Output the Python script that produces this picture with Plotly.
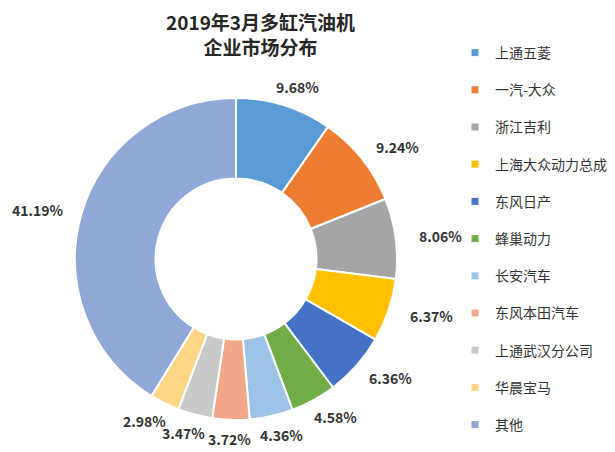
import math
import plotly.graph_objects as go

# page body adds an 8px margin, so the figure is drawn 8px in from the window corner
OFF = 8
W, H = 615 - OFF, 452 - OFF

categories = ["上通五菱", "一汽-大众", "浙江吉利", "上海大众动力总成", "东风日产",
              "蜂巢动力", "长安汽车", "东风本田汽车", "上通武汉分公司", "华晨宝马", "其他"]
shares = [9.68, 9.24, 8.06, 6.37, 6.36, 4.58, 4.36, 3.72, 3.47, 2.98, 41.19]
colors = ["#5B9BD5", "#ED7D31", "#A5A5A5", "#FFC000", "#4472C4", "#70AD47",
          "#9DC3E6", "#F2A788", "#C9C9C9", "#FFD685", "#8FA8D8"]
title_text = "<b>2019年3月多缸汽油机<br>企业市场分布</b>"


def px(x):
    return (x - OFF) / W


def py(y):
    return 1 - (y - OFF) / H


# pie extent in window pixels (left, right, top, bottom)
px_l, px_r, px_t, px_b = 75, 397, 98, 420

fig = go.Figure()
fig.add_trace(go.Pie(
    labels=categories, values=shares, sort=False, direction="clockwise",
    rotation=0, hole=0.5, textinfo="none", showlegend=False,
    marker=dict(colors=colors, line=dict(color="white", width=2)),
    domain=dict(x=[px(px_l), px(px_r)], y=[py(px_b), py(px_t)]),
))

# legend via placeholder traces (one group per item so spacing can be set)
for i, (c, col) in enumerate(zip(categories, colors)):
    fig.add_trace(go.Scatter(
        x=[None], y=[None], mode="markers", name=c, legendgroup=str(i),
        marker=dict(symbol="square", size=7, color=col),
    ))

# percentage labels placed around the ring from data
cx = (px_l + px_r) / 2
cy = (px_t + px_b) / 2
R = (px_r - px_l) / 2
total = sum(shares)
cum = 0.0
annotations = []
for v in shares:
    mid = (cum + v / 2) / total * 2 * math.pi
    cum += v
    x = cx + R * 1.28 * math.sin(mid)
    y = cy - R * 1.12 * math.cos(mid)
    annotations.append(dict(
        x=px(x), y=py(y), xref="paper", yref="paper",
        text=f"<b>{v:.2f}%</b>", showarrow=False,
        font=dict(size=14, color="#333333"),
        xanchor="center", yanchor="middle",
    ))

annotations.append(dict(
    x=px(260), y=py(34), xref="paper", yref="paper",
    text=title_text, showarrow=False, xanchor="center", yanchor="middle",
    font=dict(size=19, color="#262626"),
))

fig.update_layout(
    width=W, height=H,
    margin=dict(l=0, r=0, t=0, b=0),
    paper_bgcolor="white", plot_bgcolor="white",
    font=dict(family="Noto Sans CJK SC, sans-serif", color="#333333"),
    xaxis=dict(visible=False), yaxis=dict(visible=False),
    legend=dict(x=px(455), y=py(37), xanchor="left", yanchor="top",
                font=dict(size=14, color="#333333"), tracegroupgap=16,
                itemwidth=30, bgcolor="rgba(0,0,0,0)"),
    annotations=annotations,
)

fig.write_html("out.html")
